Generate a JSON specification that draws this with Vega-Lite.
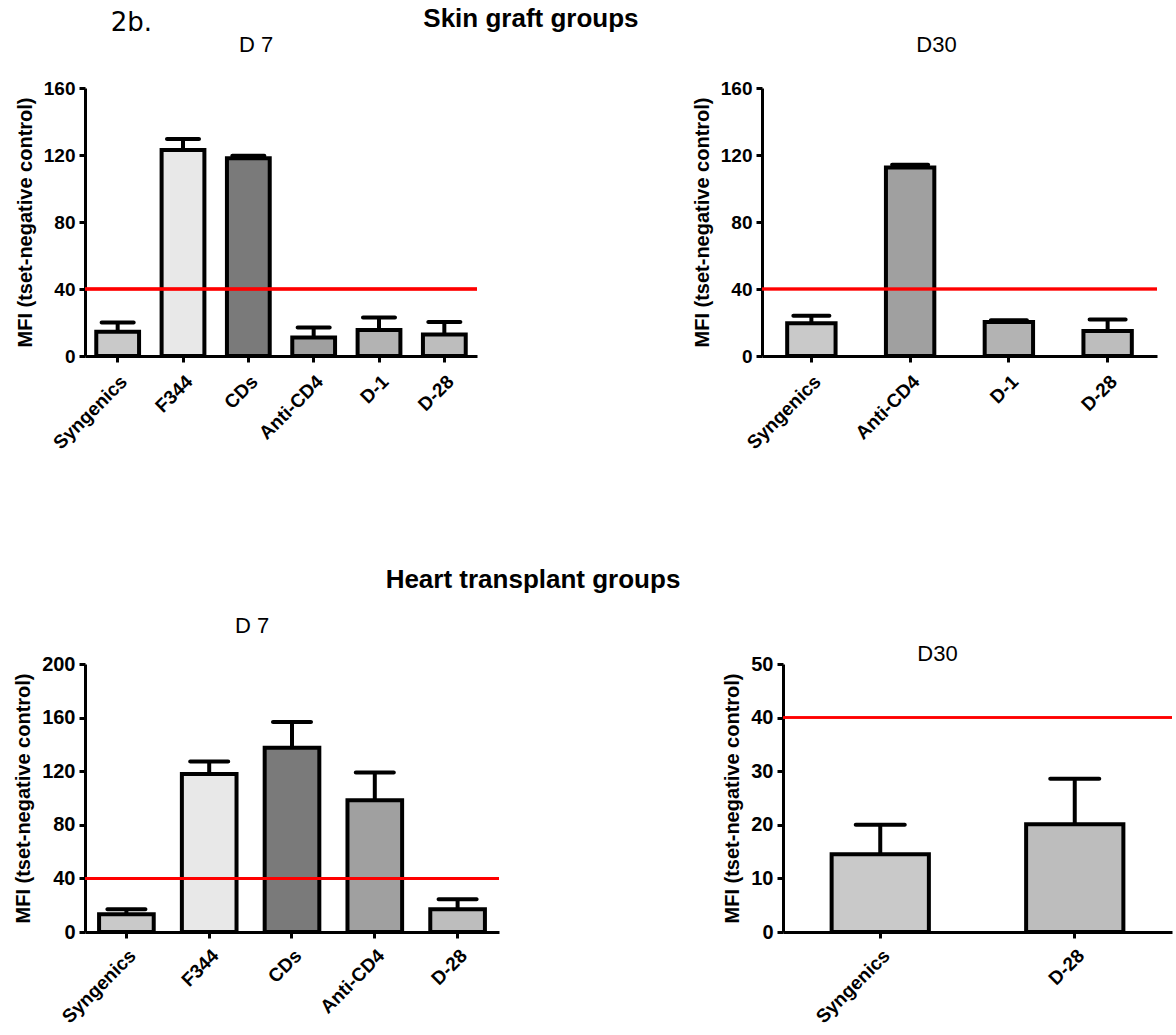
{
  "$schema": "https://vega.github.io/schema/vega-lite/v6.json",
  "background": "white",
  "padding": {"left": 13, "top": 6, "right": 0, "bottom": 0},
  "config": {
    "font": "Liberation Sans",
    "view": {"stroke": null},
    "axis": {
      "domainColor": "black", "domainWidth": 3, "tickColor": "black", "tickWidth": 3, "tickSize": 6,
      "labelColor": "black", "labelFont": "Liberation Sans", "labelFontWeight": "bold",
      "titleColor": "black", "titleFont": "Liberation Sans", "titleFontWeight": "bold", "grid": false
    },
    "title": {"color": "black", "font": "Liberation Sans"}
  },
  "datasets": {
    "skin_d7": [
      {"group": "Syngenics", "mean": 14.5, "upper": 20},
      {"group": "F344", "mean": 123, "upper": 129.5},
      {"group": "CDs", "mean": 118, "upper": 119.5},
      {"group": "Anti-CD4", "mean": 11, "upper": 17},
      {"group": "D-1", "mean": 15.5, "upper": 23},
      {"group": "D-28", "mean": 12.8, "upper": 20.3}
    ],
    "skin_d30": [
      {"group": "Syngenics", "mean": 19.5, "upper": 24},
      {"group": "Anti-CD4", "mean": 112.5, "upper": 114.2},
      {"group": "D-1", "mean": 20.3, "upper": 21.3},
      {"group": "D-28", "mean": 15, "upper": 21.8}
    ],
    "heart_d7": [
      {"group": "Syngenics", "mean": 13.2, "upper": 17},
      {"group": "F344", "mean": 118, "upper": 127.3},
      {"group": "CDs", "mean": 137.5, "upper": 156.8},
      {"group": "Anti-CD4", "mean": 98.3, "upper": 119},
      {"group": "D-28", "mean": 17, "upper": 24.5}
    ],
    "heart_d30": [
      {"group": "Syngenics", "mean": 14.5, "upper": 20},
      {"group": "D-28", "mean": 20.1, "upper": 28.6}
    ]
  },
  "title": {"text": "2b.", "anchor": "start", "dx": 97, "font": "DejaVu Sans", "fontSize": 26, "fontWeight": "normal", "offset": -30},
  "spacing": 114,
  "vconcat": [
    {
      "title": {"text": "Skin graft groups", "anchor": "start", "dx": 408, "fontSize": 26, "fontWeight": "bold", "offset": 2},
      "bounds": "flush",
      "spacing": 285,
      "hconcat": [
        {
          "width": 392, "height": 268,
          "title": {"text": "D 7", "fontSize": 22, "fontWeight": "normal", "frame": "group", "anchor": "middle", "dx": -25, "offset": 22},
          "data": {"name": "skin_d7"},
          "layer": [
            {"mark": {"type": "bar", "stroke": "black", "strokeWidth": 4},
             "encoding": {
               "x": {"field": "group", "type": "nominal", "sort": null, "scale": {"paddingInner": 0.345, "paddingOuter": 0.1725},
                 "axis": {"title": null, "labelAngle": -45, "labelAlign": "right", "labelBaseline": "top", "labelFontSize": 19, "labelPadding": 10}},
               "y": {"field": "mean", "type": "quantitative", "title": "MFI (tset-negative control)", "scale": {"domain": [0, 160], "nice": false},
                 "axis": {"values": [0, 40, 80, 120, 160], "labelFontSize": 19, "titleFontSize": 20, "labelPadding": 4, "titlePadding": 8}},
               "fill": {"field": "group", "type": "nominal", "legend": null,
                 "scale": {"domain": ["Syngenics", "F344", "CDs", "Anti-CD4", "D-1", "D-28"], "range": ["#c9c9c9", "#e8e8e8", "#7a7a7a", "#a0a0a0", "#b3b3b3", "#bdbdbd"]}}
             }},
            {"mark": {"type": "rule", "strokeWidth": 4, "color": "black"},
             "encoding": {"x": {"field": "group", "type": "nominal", "sort": null}, "y": {"field": "mean", "type": "quantitative", "title": "MFI (tset-negative control)"}, "y2": {"field": "upper"}}},
            {"mark": {"type": "tick", "color": "black", "opacity": 1, "thickness": 4, "size": 36, "cornerRadius": 2},
             "encoding": {"x": {"field": "group", "type": "nominal", "sort": null}, "y": {"field": "upper", "type": "quantitative", "title": "MFI (tset-negative control)"}}},
            {"mark": {"type": "rule", "color": "#ff0000", "strokeWidth": 2.5},
             "encoding": {"y": {"datum": 40, "type": "quantitative", "title": "MFI (tset-negative control)"}}}
          ]
        },
        {
          "width": 395, "height": 268,
          "title": {"text": "D30", "fontSize": 22, "fontWeight": "normal", "frame": "group", "anchor": "middle", "dx": -23, "offset": 22},
          "data": {"name": "skin_d30"},
          "layer": [
            {"mark": {"type": "bar", "stroke": "black", "strokeWidth": 4},
             "encoding": {
               "x": {"field": "group", "type": "nominal", "sort": null, "scale": {"paddingInner": 0.51, "paddingOuter": 0.255},
                 "axis": {"title": null, "labelAngle": -45, "labelAlign": "right", "labelBaseline": "top", "labelFontSize": 19, "labelPadding": 10}},
               "y": {"field": "mean", "type": "quantitative", "title": "MFI (tset-negative control)", "scale": {"domain": [0, 160], "nice": false},
                 "axis": {"values": [0, 40, 80, 120, 160], "labelFontSize": 19, "titleFontSize": 20, "labelPadding": 4, "titlePadding": 8}},
               "fill": {"field": "group", "type": "nominal", "legend": null,
                 "scale": {"domain": ["Syngenics", "F344", "CDs", "Anti-CD4", "D-1", "D-28"], "range": ["#c9c9c9", "#e8e8e8", "#7a7a7a", "#a0a0a0", "#b3b3b3", "#bdbdbd"]}}
             }},
            {"mark": {"type": "rule", "strokeWidth": 4, "color": "black"},
             "encoding": {"x": {"field": "group", "type": "nominal", "sort": null}, "y": {"field": "mean", "type": "quantitative", "title": "MFI (tset-negative control)"}, "y2": {"field": "upper"}}},
            {"mark": {"type": "tick", "color": "black", "opacity": 1, "thickness": 4, "size": 40, "cornerRadius": 2},
             "encoding": {"x": {"field": "group", "type": "nominal", "sort": null}, "y": {"field": "upper", "type": "quantitative", "title": "MFI (tset-negative control)"}}},
            {"mark": {"type": "rule", "color": "#ff0000", "strokeWidth": 2.5},
             "encoding": {"y": {"datum": 40, "type": "quantitative", "title": "MFI (tset-negative control)"}}}
          ]
        }
      ]
    },
    {
      "title": {"text": "Heart transplant groups", "anchor": "start", "dx": 372, "fontSize": 26, "fontWeight": "bold", "offset": 22},
      "bounds": "flush",
      "spacing": 284,
      "hconcat": [
        {
          "width": 414, "height": 268,
          "title": {"text": "D 7", "fontSize": 22, "fontWeight": "normal", "frame": "group", "anchor": "middle", "dx": -40, "offset": 16},
          "data": {"name": "heart_d7"},
          "layer": [
            {"mark": {"type": "bar", "stroke": "black", "strokeWidth": 4},
             "encoding": {
               "x": {"field": "group", "type": "nominal", "sort": null, "scale": {"paddingInner": 0.34, "paddingOuter": 0.17},
                 "axis": {"title": null, "labelAngle": -45, "labelAlign": "right", "labelBaseline": "top", "labelFontSize": 19, "labelPadding": 8}},
               "y": {"field": "mean", "type": "quantitative", "title": "MFI (tset-negative control)", "scale": {"domain": [0, 200], "nice": false},
                 "axis": {"values": [0, 40, 80, 120, 160, 200], "labelFontSize": 20, "titleFontSize": 20, "labelPadding": 4, "titlePadding": 8}},
               "fill": {"field": "group", "type": "nominal", "legend": null,
                 "scale": {"domain": ["Syngenics", "F344", "CDs", "Anti-CD4", "D-1", "D-28"], "range": ["#c9c9c9", "#e8e8e8", "#7a7a7a", "#a0a0a0", "#b3b3b3", "#bdbdbd"]}}
             }},
            {"mark": {"type": "rule", "strokeWidth": 4, "color": "black"},
             "encoding": {"x": {"field": "group", "type": "nominal", "sort": null}, "y": {"field": "mean", "type": "quantitative", "title": "MFI (tset-negative control)"}, "y2": {"field": "upper"}}},
            {"mark": {"type": "tick", "color": "black", "opacity": 1, "thickness": 4, "size": 42, "cornerRadius": 2},
             "encoding": {"x": {"field": "group", "type": "nominal", "sort": null}, "y": {"field": "upper", "type": "quantitative", "title": "MFI (tset-negative control)"}}},
            {"mark": {"type": "rule", "color": "#ff0000", "strokeWidth": 2.5},
             "encoding": {"y": {"datum": 40, "type": "quantitative", "title": "MFI (tset-negative control)"}}}
          ]
        },
        {
          "width": 389, "height": 268,
          "title": {"text": "D30", "fontSize": 22, "fontWeight": "normal", "frame": "group", "anchor": "middle", "dx": -40, "offset": -12},
          "data": {"name": "heart_d30"},
          "layer": [
            {"mark": {"type": "bar", "stroke": "black", "strokeWidth": 4},
             "encoding": {
               "x": {"field": "group", "type": "nominal", "sort": null, "scale": {"paddingInner": 0.5, "paddingOuter": 0.25},
                 "axis": {"title": null, "labelAngle": -45, "labelAlign": "right", "labelBaseline": "top", "labelFontSize": 19, "labelPadding": 8}},
               "y": {"field": "mean", "type": "quantitative", "title": "MFI (tset-negative control)", "scale": {"domain": [0, 50], "nice": false},
                 "axis": {"values": [0, 10, 20, 30, 40, 50], "labelFontSize": 20, "titleFontSize": 20, "labelPadding": 4, "titlePadding": 8}},
               "fill": {"field": "group", "type": "nominal", "legend": null,
                 "scale": {"domain": ["Syngenics", "F344", "CDs", "Anti-CD4", "D-1", "D-28"], "range": ["#c9c9c9", "#e8e8e8", "#7a7a7a", "#a0a0a0", "#b3b3b3", "#bdbdbd"]}}
             }},
            {"mark": {"type": "rule", "strokeWidth": 4, "color": "black"},
             "encoding": {"x": {"field": "group", "type": "nominal", "sort": null}, "y": {"field": "mean", "type": "quantitative", "title": "MFI (tset-negative control)"}, "y2": {"field": "upper"}}},
            {"mark": {"type": "tick", "color": "black", "opacity": 1, "thickness": 4, "size": 53, "cornerRadius": 2},
             "encoding": {"x": {"field": "group", "type": "nominal", "sort": null}, "y": {"field": "upper", "type": "quantitative", "title": "MFI (tset-negative control)"}}},
            {"mark": {"type": "rule", "color": "#ff0000", "strokeWidth": 2.5},
             "encoding": {"y": {"datum": 40, "type": "quantitative", "title": "MFI (tset-negative control)"}}}
          ]
        }
      ]
    }
  ]
}
